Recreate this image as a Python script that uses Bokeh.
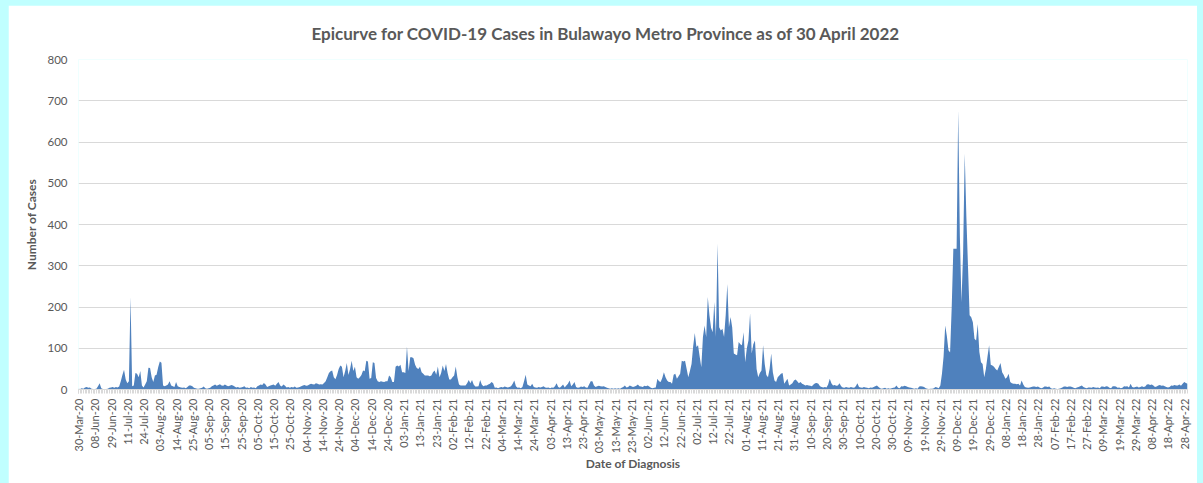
import math
import pandas as pd
from bokeh.plotting import figure
from bokeh.models import Range1d, FixedTicker, ColumnDataSource
from bokeh.layouts import column
from bokeh.embed import file_html
from bokeh.resources import INLINE

# Category dates (the early period has only some dates with data)
early_dates = [
    "2020-03-30", "2020-03-31", "2020-04-02", "2020-04-09", "2020-04-17", "2020-04-25", "2020-05-05", "2020-05-14", "2020-05-22", "2020-05-31",
    "2020-06-08", "2020-06-10", "2020-06-12", "2020-06-14", "2020-06-16", "2020-06-18", "2020-06-20", "2020-06-22", "2020-06-24", "2020-06-26",
    "2020-06-29", "2020-06-30", "2020-07-01", "2020-07-02", "2020-07-03", "2020-07-05", "2020-07-06", "2020-07-07", "2020-07-08", "2020-07-09",
    "2020-07-11", "2020-07-13", "2020-07-14", "2020-07-15", "2020-07-16", "2020-07-17", "2020-07-20", "2020-07-21", "2020-07-22", "2020-07-23",
    "2020-07-24", "2020-07-25", "2020-07-26", "2020-07-27", "2020-07-28", "2020-07-29", "2020-07-30", "2020-07-31", "2020-08-01", "2020-08-02",
    "2020-08-03", "2020-08-04", "2020-08-05", "2020-08-06", "2020-08-07", "2020-08-08", "2020-08-10", "2020-08-11", "2020-08-12", "2020-08-13",
    "2020-08-14", "2020-08-15", "2020-08-17", "2020-08-18", "2020-08-19", "2020-08-20", "2020-08-21", "2020-08-22", "2020-08-23", "2020-08-24",
    "2020-08-25", "2020-08-26", "2020-08-27", "2020-08-28", "2020-08-29", "2020-08-31", "2020-09-01", "2020-09-02", "2020-09-03", "2020-09-04",
]
daily_start = "2020-09-05"
daily_end = "2022-04-30"

cases = [
    2, 1, 3, 2, 5, 6, 4, 5, 2, 1,
    1, 2, 8, 15, 3, 1, 0, 1, 2, 4,
    5, 6, 4, 6, 5, 7, 20, 35, 48, 25,
    15, 20, 224, 8, 10, 40, 38, 30, 45, 10,
    5, 12, 20, 53, 52, 30, 18, 34, 36, 54,
    68, 65, 10, 8, 10, 12, 20, 10, 8, 6,
    18, 8, 6, 5, 4, 5, 3, 6, 10, 10,
    8, 4, 3, 2, 2, 3, 4, 7, 3, 2,
    3, 4, 8, 10, 12, 9, 11, 13, 10, 9,
    12, 10, 8, 9, 11, 10, 7, 5, 6, 4,
    5, 6, 8, 4, 5, 3, 6, 4, 5, 3,
    8, 10, 12, 11, 16, 12, 6, 8, 10, 11,
    12, 9, 14, 18, 10, 7, 12, 9, 5, 6,
    4, 6, 5, 7, 4, 5, 6, 8, 10, 11,
    9, 10, 12, 14, 13, 12, 15, 14, 12, 13,
    12, 16, 20, 30, 40, 44, 46, 30, 25, 35,
    50, 58, 55, 30, 45, 64, 35, 50, 70, 45,
    55, 30, 26, 30, 35, 46, 44, 70, 68, 26,
    28, 66, 64, 28, 20, 18, 20, 19, 18, 20,
    20, 34, 30, 18, 18, 55, 58, 56, 60, 42,
    42, 40, 104, 45, 78, 78, 76, 60, 52, 50,
    55, 42, 38, 34, 34, 34, 32, 34, 42, 46,
    36, 56, 30, 40, 58, 45, 62, 40, 24, 24,
    30, 34, 56, 30, 12, 10, 10, 10, 10, 15,
    23, 15, 23, 12, 7, 7, 8, 23, 12, 8,
    10, 10, 12, 14, 18, 15, 4, 5, 3, 5,
    6, 5, 7, 6, 5, 6, 8, 14, 22, 8,
    4, 5, 3, 6, 20, 36, 12, 10, 8, 14,
    6, 5, 4, 6, 5, 6, 8, 5, 4, 5,
    3, 5, 4, 8, 15, 6, 4, 8, 12, 5,
    10, 14, 22, 8, 12, 18, 6, 4, 5, 7,
    6, 8, 5, 4, 12, 20, 20, 10, 6, 8,
    9, 8, 7, 8, 6, 4, 3, 2, 3, 2,
    3, 2, 3, 2, 4, 6, 10, 5, 6, 10,
    8, 6, 7, 9, 12, 8, 7, 6, 9, 8,
    10, 7, 4, 3, 4, 5, 26, 20, 18, 28,
    42, 30, 22, 18, 18, 14, 36, 38, 26, 32,
    38, 70, 68, 70, 50, 30, 45, 62, 105, 137,
    103, 107, 80, 54, 127, 155, 127, 224, 180, 150,
    139, 212, 127, 354, 151, 143, 147, 127, 180, 256,
    151, 176, 151, 87, 85, 83, 115, 110, 107, 139,
    66, 100, 119, 184, 87, 110, 119, 50, 30, 40,
    46, 107, 62, 35, 30, 50, 87, 42, 22, 18,
    30, 34, 38, 40, 14, 20, 26, 10, 12, 15,
    22, 24, 20, 15, 18, 14, 12, 10, 11, 10,
    9, 8, 12, 15, 16, 14, 8, 6, 5, 6,
    5, 12, 26, 15, 10, 11, 9, 10, 15, 8,
    5, 4, 6, 5, 4, 6, 5, 4, 8, 15,
    6, 5, 4, 6, 5, 4, 3, 5, 4, 6,
    8, 10, 6, 3, 2, 3, 4, 2, 3, 2,
    3, 4, 5, 10, 4, 3, 8, 7, 9, 8,
    6, 5, 4, 3, 2, 3, 2, 7, 8, 7,
    6, 3, 2, 1, 2, 2, 3, 6, 5, 3,
    10, 38, 80, 155, 130, 95, 90, 200, 341, 341,
    341, 677, 374, 212, 330, 572, 420, 300, 180, 175,
    163, 123, 119, 159, 91, 66, 62, 30, 50, 80,
    107, 60, 58, 55, 50, 46, 55, 64, 42, 35,
    26, 30, 38, 18, 15, 14, 14, 13, 14, 10,
    22, 12, 6, 5, 4, 5, 6, 7, 7, 6,
    7, 5, 3, 4, 7, 7, 6, 7, 3, 2,
    3, 2, 1, 2, 3, 5, 7, 7, 6, 7,
    7, 6, 4, 3, 5, 6, 8, 10, 6, 4,
    3, 5, 5, 4, 6, 5, 4, 5, 3, 7,
    7, 6, 8, 7, 4, 3, 8, 8, 7, 4,
    5, 3, 4, 8, 7, 8, 5, 14, 6, 5,
    6, 7, 5, 6, 8, 6, 7, 12, 13, 11,
    12, 10, 6, 7, 10, 11, 9, 10, 8, 6,
    5, 6, 10, 9, 11, 10, 10, 12, 9, 14,
    18, 16, 14,
]

title_text = "Epicurve for COVID-19 Cases in Bulawayo Metro Province as of 30 April 2022"
x_title = "Date of Diagnosis"
y_title = "Number of Cases"
label_every = 10

dates = list(pd.to_datetime(early_dates)) + list(pd.date_range(daily_start, daily_end))
date_labels = [d.strftime("%d-%b-%y") for d in dates]
n = len(dates)
cases = cases[:n] + [0] * max(0, n - len(cases))
idx = list(range(n))

src = ColumnDataSource(dict(x=idx, y=cases, date=date_labels))

GREY = "#595959"
FONT = "Lato"

p = figure(width=1189, height=478, output_backend="svg", toolbar_location=None,
           x_range=Range1d(0, n - 1), y_range=Range1d(0, 800),
           min_border_left=70, min_border_right=10, min_border_top=54, min_border_bottom=94,
           background_fill_color="white", border_fill_color="white")
p.margin = (5, 6, 0, 8)

p.varea(x="x", y1=0, y2="y", source=src, fill_color="#4F81BD")

p.title.text = title_text
p.title.align = "left"
p.title.offset = 233
p.title.standoff = 31
p.title.text_font = FONT
p.title.text_font_style = "bold"
p.title.text_font_size = "17px"
p.title.text_color = GREY

p.outline_line_color = None
p.xgrid.visible = False
p.ygrid.grid_line_color = "#D9D9D9"
p.ygrid.grid_line_width = 1

p.yaxis.ticker = FixedTicker(ticks=list(range(0, 801, 100)))
p.yaxis.axis_line_color = None
p.yaxis.major_tick_line_color = None
p.yaxis.minor_tick_line_color = None
p.yaxis.major_tick_out = 0
p.yaxis.major_label_standoff = 11
p.yaxis.major_label_text_font = FONT
p.yaxis.major_label_text_font_size = "11.5px"
p.yaxis.major_label_text_color = GREY
p.yaxis.axis_label = y_title
p.yaxis.axis_label_text_font = FONT
p.yaxis.axis_label_text_font_style = "bold"
p.yaxis.axis_label_text_font_size = "12px"
p.yaxis.axis_label_text_color = GREY
p.yaxis.axis_label_standoff = 5

major = list(range(0, n, label_every))
p.xaxis.ticker = FixedTicker(ticks=major, minor_ticks=idx)
p.xaxis.major_label_overrides = {i: date_labels[i] for i in major}
p.xaxis.major_label_orientation = math.pi / 2
p.xaxis.axis_line_color = "#D9D9D9"
p.xaxis.major_tick_line_color = "#D9D9D9"
p.xaxis.minor_tick_line_color = "#D9D9D9"
p.xaxis.major_tick_out = 4
p.xaxis.major_tick_in = 0
p.xaxis.minor_tick_out = 4
p.xaxis.minor_tick_in = 0
p.xaxis.major_label_standoff = 5
p.xaxis.major_label_text_font = FONT
p.xaxis.major_label_text_font_size = "11px"
p.xaxis.major_label_text_color = GREY
p.xaxis.axis_label = x_title
p.xaxis.axis_label_text_font = FONT
p.xaxis.axis_label_text_font_style = "bold"
p.xaxis.axis_label_text_font_size = "12px"
p.xaxis.axis_label_text_color = GREY
p.xaxis.axis_label_standoff = 0

layout = column(p, width=1203, height=483, styles={"background-color": "#C0FFFF"})

open("out.html", "w").write(file_html(layout, INLINE))
